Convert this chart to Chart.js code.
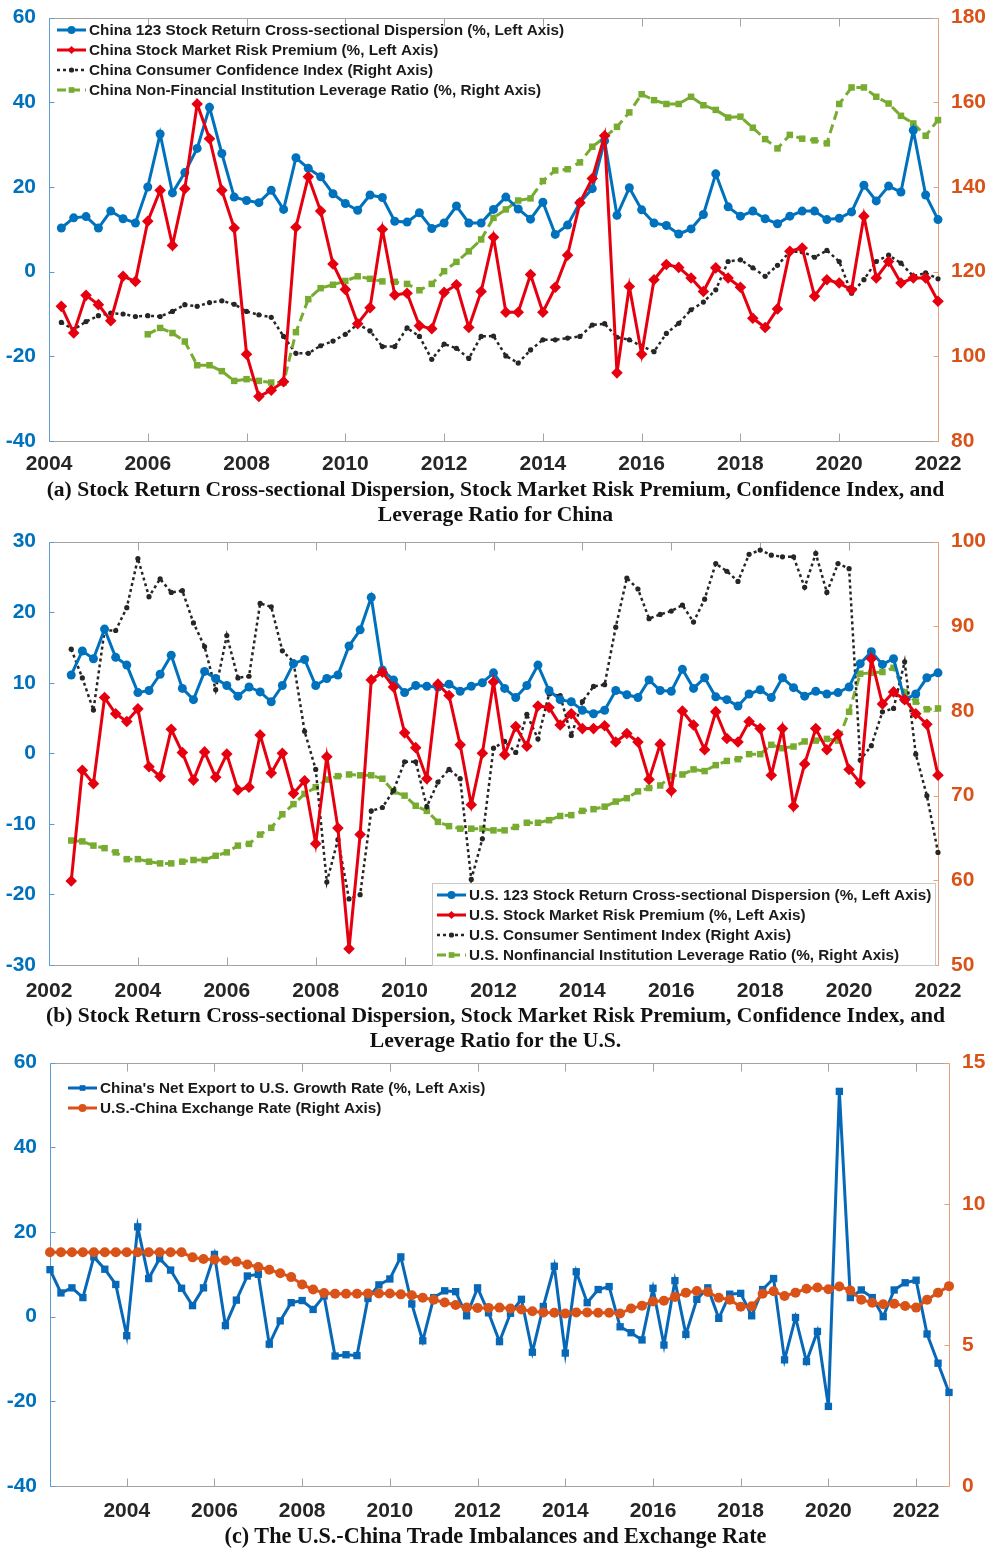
<!DOCTYPE html>
<html lang="en">
<head>
<meta charset="UTF-8">
<title>Dispersion, risk premium, confidence, leverage and trade</title>
<style>
  body { margin: 0; background: #fff; }
  #page { position: relative; width: 991px; height: 1548px; overflow: hidden; }
  canvas { position: absolute; left: 0; }
  .cap { position: absolute; left: 0; width: 991px; text-align: center; color: #111;
         font: bold 21.6px "Liberation Serif", "Times New Roman", serif; line-height: 25px; }
</style>
<script src="https://cdn.jsdelivr.net/npm/chart.js@4.4.1/dist/chart.umd.min.js"></script>
</head>
<body>
<div id="page">
  <canvas id="chartA" width="991" height="478" style="top:0"></canvas>
  <div class="cap" style="top:477px">(a) Stock Return Cross-sectional Dispersion, Stock Market Risk Premium, Confidence Index, and<br>Leverage Ratio for China</div>
  <canvas id="chartB" width="991" height="478" style="top:524px"></canvas>
  <div class="cap" style="top:1003px">(b) Stock Return Cross-sectional Dispersion, Stock Market Risk Premium, Confidence Index, and<br>Leverage Ratio for the U.S.</div>
  <canvas id="chartC" width="991" height="478" style="top:1045px"></canvas>
  <div class="cap" style="top:1523px;font-size:22.2px">(c) The U.S.-China Trade Imbalances and Exchange Rate</div>
</div>
<script>
// ---------- panel (a): China, quarterly from 2004Q2 ----------
const chinaStart = 2004.25;
const chinaDisp = [10.3,12.7,13.0,10.3,14.3,12.5,11.5,20.0,32.5,18.6,23.4,29.1,38.8,27.9,17.6,16.8,16.3,19.2,14.7,26.9,
  24.4,22.4,18.4,16.1,14.5,18.1,17.5,11.9,11.7,13.9,10.2,11.5,15.5,11.5,11.5,14.7,17.6,14.8,12.4,16.4,
  8.8,11.0,16.3,19.6,30.9,13.3,19.8,14.6,11.5,10.9,8.9,10.1,13.5,23.1,15.3,13.1,14.3,12.5,11.3,13.1,
  14.3,14.3,12.3,12.6,14.1,20.4,16.7,20.2,18.8,33.4,18.1,12.3];
const chinaRisk = [-8.2,-14.5,-5.6,-7.8,-11.6,-1.1,-2.3,11.9,19.2,6.2,19.6,39.6,31.4,19.2,10.3,-19.5,-29.5,-28.0,-26.0,10.5,
  22.4,14.3,1.8,-4.2,-12.3,-8.5,10.0,-5.5,-5.1,-12.8,-13.5,-4.9,-3.1,-13.2,-4.7,8.1,-9.6,-9.6,-0.7,-9.6,
  -3.7,3.9,16.3,22.0,32.1,-23.9,-3.5,-19.5,-1.9,1.7,1.0,-1.5,-4.7,0.9,-1.5,-3.7,-11.0,-13.2,-8.8,4.8,
  5.6,-5.8,-1.9,-2.7,-4.3,13.1,-1.5,2.4,-2.7,-1.5,-1.5,-7.0];
const chinaConf = [108.0,106.3,108.2,109.6,110.2,110.0,109.4,109.6,109.4,110.6,112.2,111.8,112.7,113.1,112.3,110.6,109.8,109.2,104.7,100.7,
  100.7,102.5,103.6,105.2,107.6,106.0,102.3,102.3,106.7,104.7,99.3,102.9,101.9,99.5,104.7,104.8,100.1,98.4,101.5,103.9,
  103.9,104.3,104.7,107.4,107.7,104.5,103.9,102.4,101.1,105.4,107.8,111.0,112.8,115.7,122.4,122.8,120.9,118.9,121.5,124.7,
  124.7,123.4,125.0,122.4,114.9,118.1,122.4,123.9,122.0,118.9,119.7,118.3];
const chinaLevStart = 2006.0;
const chinaLev = [105.2,106.7,105.5,103.5,97.9,97.9,96.5,94.2,94.6,94.2,93.8,93.8,105.7,113.5,116.1,116.9,117.8,
  118.9,118.3,117.7,117.6,117.1,115.6,117.1,120.1,122.3,124.8,127.6,132.7,134.7,136.8,137.3,141.4,143.9,144.2,145.8,
  149.5,151.7,154.2,157.6,161.9,160.5,159.6,159.6,161.3,159.3,158.2,156.4,156.6,154.0,151.3,149.1,152.3,151.4,151.0,
  150.3,159.6,163.5,163.5,161.3,159.7,156.8,155.0,152.1,155.8];
const ticksAx = [2004,2006,2008,2010,2012,2014,2016,2018,2020,2022];
const ticksAl = [-40,-20,0,20,40,60];
const ticksAr = [80,100,120,140,160,180];

// ---------- panel (b): U.S., quarterly from 2002Q3 ----------
const usStart = 2002.5;
const usDisp = [11.1,14.5,13.4,17.6,13.6,12.5,8.6,8.9,11.2,13.9,9.2,7.6,11.6,10.6,9.6,8.1,9.4,8.7,7.3,9.6,
  12.7,13.3,9.6,10.6,11.1,15.2,17.5,22.1,11.8,10.4,8.6,9.6,9.5,9.4,9.8,8.8,9.5,10.0,11.4,9.2,
  7.9,9.6,12.5,8.9,7.6,7.3,6.1,5.6,6.1,8.9,8.3,7.9,10.4,8.9,8.8,11.9,9.2,10.7,8.0,7.6,
  6.7,8.4,9.0,7.9,10.7,9.3,8.1,8.8,8.4,8.6,9.4,12.7,14.4,12.6,13.4,7.6,8.4,10.7,11.4];
const usRisk = [-18.1,-2.4,-4.3,7.9,5.6,4.5,6.3,-1.9,-3.3,3.4,0.1,-3.8,0.2,-3.4,-0.1,-5.2,-4.8,2.6,-2.8,0.0,
  -5.7,-3.9,-12.8,-0.5,-10.6,-27.7,-11.5,10.4,11.5,9.4,2.9,0.8,-3.6,9.8,8.2,1.2,-7.3,0.0,10.1,-0.2,
  3.8,1.0,6.7,6.5,4.0,5.6,3.5,3.5,3.9,1.6,2.8,1.6,-3.7,1.3,-5.3,6.0,4.0,0.5,5.9,2.1,
  1.6,4.5,3.5,-3.1,3.5,-7.5,-1.5,3.5,0.5,2.7,-2.3,-4.2,13.4,7.0,8.7,7.6,5.6,4.1,-3.1];
const usSent = [87.3,83.9,80.1,89.5,89.5,92.2,98.0,93.5,95.6,94.0,94.2,90.4,87.6,82.5,88.9,83.9,84.1,92.7,92.3,87.1,
  85.8,77.6,73.1,59.8,64.8,57.8,58.3,68.2,68.6,70.6,74.0,74.0,68.7,71.6,73.1,72.0,60.1,64.9,75.6,76.4,
  75.1,79.6,76.7,82.0,81.8,77.1,81.1,82.9,83.1,89.9,95.7,94.4,90.9,91.4,91.8,92.5,90.5,93.2,97.4,96.5,
  95.3,98.5,99.0,98.4,98.2,98.2,94.6,98.6,94.0,97.4,96.8,74.2,75.9,79.9,80.3,85.8,74.9,70.0,63.3];
const usLev = [64.7,64.6,64.1,63.8,63.3,62.5,62.5,62.2,62.0,62.0,62.2,62.4,62.4,62.9,63.3,64.1,64.3,65.4,66.2,67.8,
  69.0,70.2,71.0,71.9,72.3,72.5,72.4,72.4,72.0,70.5,70.0,68.8,68.2,66.9,66.4,66.1,66.1,66.1,65.9,65.9,
  66.3,66.8,66.8,67.1,67.6,67.7,68.2,68.4,68.7,69.3,69.7,70.5,70.9,71.2,72.3,72.5,73.1,72.9,73.6,74.1,
  74.3,74.9,74.9,76.0,75.6,75.8,76.4,76.5,76.7,76.5,79.9,84.4,84.5,84.6,85.1,82.2,81.1,80.2,80.3];
const ticksBx = [2002,2004,2006,2008,2010,2012,2014,2016,2018,2020,2022];
const ticksBl = [-30,-20,-10,0,10,20,30];
const ticksBr = [50,60,70,80,90,100];

// ---------- panel (c): trade and exchange rate, quarterly from 2002Q2 ----------
const tradeStart = 2002.25;
const netExport = [11.1,5.6,6.8,4.5,14.1,11.2,7.6,-4.5,21.2,9.0,13.7,11.0,6.7,2.6,6.8,14.7,-2.1,3.9,9.6,10.0,
  -6.5,-1.0,3.3,3.8,1.7,4.9,-9.3,-9.0,-9.2,4.3,7.5,8.9,14.1,3.0,-5.7,4.5,6.1,5.9,0.2,6.8,
  0.9,-5.9,0.8,4.1,-8.4,2.4,11.9,-8.6,10.6,3.3,6.4,7.1,-2.4,-3.8,-5.5,6.7,-6.7,8.5,-4.2,4.1,
  6.8,-0.4,5.3,5.5,0.2,6.4,9.0,-10.2,-0.2,-10.6,-3.5,-21.2,53.2,4.5,6.3,4.5,0.0,6.3,8.0,8.6,
  -4.1,-11.0,-17.9];
const exRate = [8.28,8.28,8.28,8.28,8.28,8.28,8.28,8.28,8.28,8.28,8.28,8.28,8.28,8.10,8.04,8.02,7.99,7.95,7.85,7.76,
  7.66,7.54,7.40,7.14,6.96,6.84,6.81,6.81,6.81,6.82,6.82,6.82,6.79,6.76,6.67,6.60,6.50,6.41,6.32,6.31,
  6.31,6.32,6.29,6.25,6.19,6.15,6.14,6.11,6.15,6.15,6.14,6.14,6.11,6.29,6.39,6.54,6.56,6.70,6.85,6.91,
  6.87,6.67,6.60,6.35,6.37,6.81,6.90,6.73,6.85,6.99,7.03,6.97,7.07,6.93,6.60,6.49,6.44,6.46,6.38,6.32,
  6.60,6.85,7.08];
const ticksCx = [2004,2006,2008,2010,2012,2014,2016,2018,2020,2022];
const ticksCl = [-40,-20,0,20,40,60];
const ticksCr = [0,5,10,15];

const BLUE = '#0072BD', RED = '#E6000F', BLACK = '#262626', GREEN = '#77AC30', ORANGE = '#D95319';
const FONT = '"Liberation Sans", Arial, sans-serif';

function quarterly(start, vals) {
  return vals.map((v, i) => ({ x: start + i * 0.25, y: v }));
}

function line(ctx, x1, y1, x2, y2) {
  ctx.beginPath(); ctx.moveTo(x1, y1); ctx.lineTo(x2, y2); ctx.stroke();
}

function marker(ctx, style, x, y, r, color) {
  ctx.fillStyle = color;
  ctx.beginPath();
  if (style === 'circle') ctx.arc(x, y, r, 0, Math.PI * 2);
  else if (style === 'rectRot') { ctx.moveTo(x, y - r); ctx.lineTo(x + r, y); ctx.lineTo(x, y + r); ctx.lineTo(x - r, y); ctx.closePath(); }
  else { const s = r * Math.SQRT1_2; ctx.rect(x - s, y - s, 2 * s, 2 * s); }
  ctx.fill();
}

// box round the plot with inward tick marks, like the original figure
const frame = {
  id: 'frame',
  beforeDatasetsDraw(chart) {
    const { ctx, chartArea: a, scales } = chart;
    const L = Math.round(a.left) + 0.5, R = Math.round(a.right) + 0.5;
    const T = Math.round(a.top) + 0.5, B = Math.round(a.bottom) + 0.5;
    ctx.save();
    ctx.lineWidth = 1;
    ctx.strokeStyle = '#a3a3a3';
    line(ctx, L, T, R, T);
    line(ctx, L, B, R, B);
    scales.x.ticks.forEach(t => {
      const px = Math.round(scales.x.getPixelForValue(t.value)) + 0.5;
      line(ctx, px, B, px, B - 8);
      line(ctx, px, T, px, T + 8);
    });
    ctx.strokeStyle = '#5d9bd3';
    line(ctx, L, T, L, B);
    scales.y.ticks.forEach(t => {
      const py = Math.round(scales.y.getPixelForValue(t.value)) + 0.5;
      line(ctx, L, py, L + 5, py);
    });
    ctx.strokeStyle = '#e3a07f';
    line(ctx, R, T, R, B);
    scales.y1.ticks.forEach(t => {
      const py = Math.round(scales.y1.getPixelForValue(t.value)) + 0.5;
      line(ctx, R, py, R - 5, py);
    });
    ctx.restore();
  }
};

// legend drawn inside the plot area
const legendBox = {
  id: 'legendBox',
  afterDatasetsDraw(chart, args, o) {
    const ctx = chart.ctx;
    ctx.save();
    if (o.box) {
      ctx.fillStyle = '#fff';
      ctx.fillRect(o.box[0], o.box[1], o.box[2], o.box[3]);
      ctx.strokeStyle = '#c8c8c8';
      ctx.lineWidth = 1;
      ctx.strokeRect(o.box[0] + 0.5, o.box[1] + 0.5, o.box[2], o.box[3]);
    }
    ctx.font = 'bold 15.3px ' + FONT;
    ctx.textBaseline = 'middle';
    chart.data.datasets.forEach((d, i) => {
      const y = o.y + i * o.rowH;
      ctx.setLineDash(d.borderDash || []);
      ctx.lineWidth = d.borderWidth;
      ctx.strokeStyle = d.borderColor;
      line(ctx, o.x, y, o.x + o.sample, y);
      ctx.setLineDash([]);
      marker(ctx, d.pointStyle, o.x + o.sample / 2, y, Math.min(d.pointRadius, 4), d.backgroundColor);
      ctx.fillStyle = '#1a1a1a';
      ctx.fillText(d.label, o.x + o.sample + 3, y + 1);
    });
    ctx.restore();
  }
};

function fixedTicks(list) {
  return s => { s.ticks = list.map(v => ({ value: v })); };
}

function makeChart(id, datasets, ax, legendOpts) {
  return new Chart(document.getElementById(id), {
    type: 'line',
    data: { datasets },
    options: {
      responsive: false,
      animation: false,
      devicePixelRatio: 1,
      events: [],
      layout: { padding: { top: 17 } },
      plugins: { legend: { display: false }, tooltip: { enabled: false }, legendBox: legendOpts },
      scales: {
        x: {
          type: 'linear', min: ax.xMin, max: ax.xMax,
          grid: { display: false }, border: { display: false },
          afterBuildTicks: fixedTicks(ax.xTicks),
          afterFit: s => { s.height = 37; },
          ticks: { autoSkip: false, maxRotation: 0, padding: ax.xPad, color: '#262626',
                   font: { family: FONT, size: 21, weight: 'bold' }, callback: v => String(v) }
        },
        y: {
          position: 'left', min: ax.lMin, max: ax.lMax,
          grid: { display: false }, border: { display: false },
          afterBuildTicks: fixedTicks(ax.lTicks),
          afterFit: s => { s.width = ax.leftW; },
          ticks: { padding: 5, color: BLUE, font: { family: FONT, size: 21, weight: 'bold' } }
        },
        y1: {
          position: 'right', min: ax.rMin, max: ax.rMax,
          grid: { display: false }, border: { display: false },
          afterBuildTicks: fixedTicks(ax.rTicks),
          afterFit: s => { s.width = ax.rightW; },
          ticks: { padding: 5, color: ORANGE, font: { family: FONT, size: 21, weight: 'bold' } }
        }
      }
    },
    plugins: [frame, legendBox]
  });
}

const common = { fill: false, tension: 0, clip: false, pointBorderWidth: 0 };
const styleBlue = { borderColor: BLUE, backgroundColor: BLUE, borderWidth: 3, pointStyle: 'circle', pointRadius: 4.5 };
const styleRed = { borderColor: RED, backgroundColor: RED, borderWidth: 3, pointStyle: 'rectRot', pointRadius: 5.8 };
const styleBlack = { borderColor: BLACK, backgroundColor: BLACK, borderWidth: 2.5, borderDash: [3, 3], pointStyle: 'circle', pointRadius: 2.6 };
const styleGreen = { borderColor: GREEN, backgroundColor: GREEN, borderWidth: 3, borderDash: [9, 5], pointStyle: 'rect', pointRadius: 4.6 };

makeChart('chartA', [
  Object.assign({ label: 'China 123 Stock Return Cross-sectional Dispersion (%, Left Axis)', data: quarterly(chinaStart, chinaDisp), yAxisID: 'y', order: 2 }, common, styleBlue),
  Object.assign({ label: 'China Stock Market Risk Premium (%, Left Axis)', data: quarterly(chinaStart, chinaRisk), yAxisID: 'y', order: 1 }, common, styleRed),
  Object.assign({ label: 'China Consumer Confidence Index (Right Axis)', data: quarterly(chinaStart, chinaConf), yAxisID: 'y1', order: 4 }, common, styleBlack),
  Object.assign({ label: 'China Non-Financial Institution Leverage Ratio (%, Right Axis)', data: quarterly(chinaLevStart, chinaLev), yAxisID: 'y1', order: 3 }, common, styleGreen)
], { xMin: 2004, xMax: 2022, xTicks: ticksAx, xPad: 3, lMin: -40, lMax: 60, lTicks: ticksAl, rMin: 80, rMax: 180, rTicks: ticksAr, leftW: 49, rightW: 53 },
   { x: 57, y: 30, rowH: 20, sample: 29 });

makeChart('chartB', [
  Object.assign({ label: 'U.S. 123 Stock Return Cross-sectional Dispersion (%, Left Axis)', data: quarterly(usStart, usDisp), yAxisID: 'y', order: 2 }, common, styleBlue),
  Object.assign({ label: 'U.S. Stock Market Risk Premium (%, Left Axis)', data: quarterly(usStart, usRisk), yAxisID: 'y', order: 1 }, common, styleRed),
  Object.assign({ label: 'U.S. Consumer Sentiment Index (Right Axis)', data: quarterly(usStart, usSent), yAxisID: 'y1', order: 3 }, common, styleBlack),
  Object.assign({ label: 'U.S. Nonfinancial Institution Leverage Ratio (%, Right Axis)', data: quarterly(usStart, usLev), yAxisID: 'y1', order: 4 }, common, styleGreen)
], { xMin: 2002, xMax: 2022, xTicks: ticksBx, xPad: 6, lMin: -30, lMax: 30, lTicks: ticksBl, rMin: 50, rMax: 100, rTicks: ticksBr, leftW: 49, rightW: 53 },
   { x: 437, y: 371, rowH: 20, sample: 29, box: [432, 359, 503, 82] });

makeChart('chartC', [
  Object.assign({ label: "China's Net Export to U.S. Growth Rate (%, Left Axis)", data: quarterly(tradeStart, netExport), yAxisID: 'y', order: 2 }, common,
    { borderColor: '#0868B8', backgroundColor: '#0868B8', borderWidth: 3, pointStyle: 'rect', pointRadius: 5.2 }),
  Object.assign({ label: 'U.S.-China Exchange Rate (Right Axis)', data: quarterly(tradeStart, exRate), yAxisID: 'y1', order: 1 }, common,
    { borderColor: ORANGE, backgroundColor: ORANGE, borderWidth: 3, pointStyle: 'circle', pointRadius: 5 })
], { xMin: 2002.25, xMax: 2022.75, xTicks: ticksCx, xPad: 5, lMin: -40, lMax: 60, lTicks: ticksCl, rMin: 0, rMax: 15, rTicks: ticksCr, leftW: 50, rightW: 42 },
   { x: 68, y: 43, rowH: 20, sample: 29 });
</script>
</body>
</html>
